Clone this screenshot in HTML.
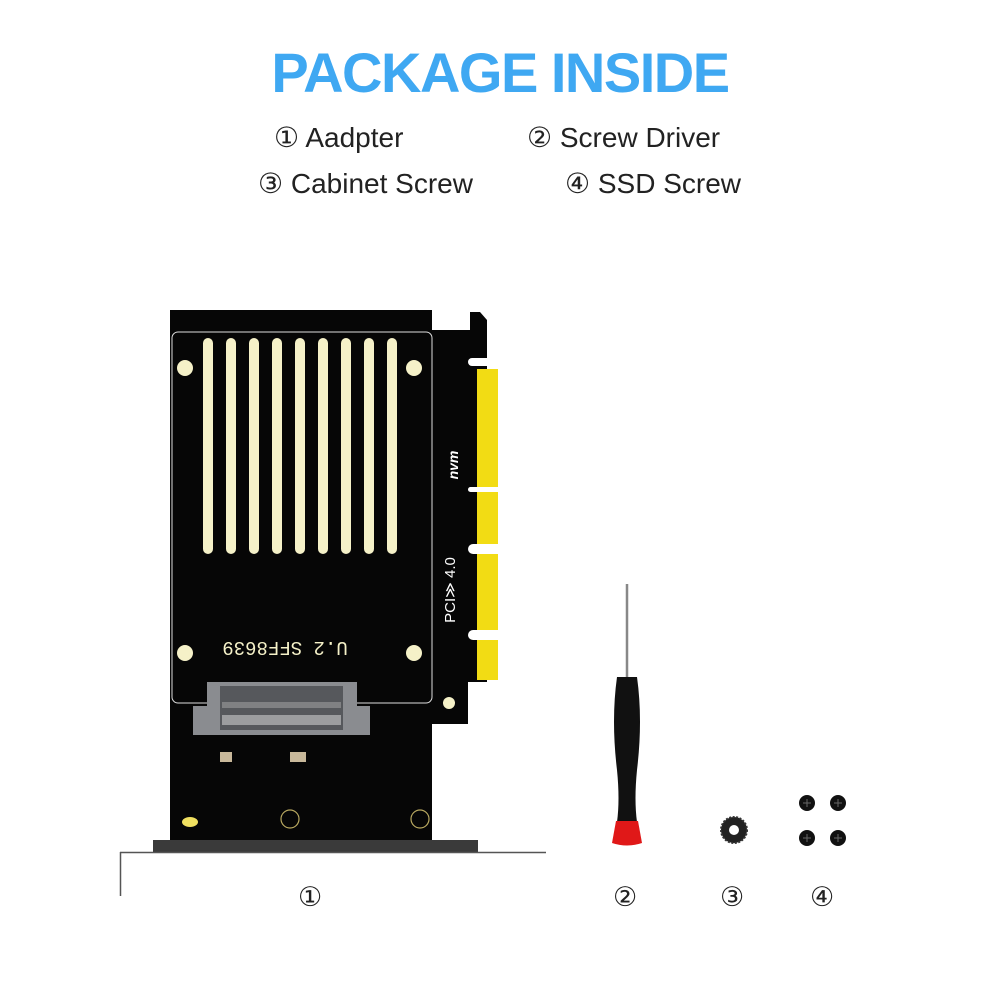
<!DOCTYPE html>
<html><head><meta charset="utf-8"><style>
body{margin:0;background:#fff;}
.t{position:absolute;font-family:"Liberation Sans","DejaVu Sans",sans-serif;color:#222;white-space:nowrap;}
</style></head><body>
<div style="position:relative;width:1000px;height:1000px;overflow:hidden;">
<div class="t" style="left:0;width:1000px;text-align:center;top:40px;font-size:56px;font-weight:bold;color:#3fa8f2;letter-spacing:-1.5px;">PACKAGE INSIDE</div>
<div class="t" style="left:274px;top:121px;font-size:28px;">① Aadpter</div>
<div class="t" style="left:527px;top:121px;font-size:28px;">② Screw Driver</div>
<div class="t" style="left:258px;top:167px;font-size:28px;">③ Cabinet Screw</div>
<div class="t" style="left:565px;top:167px;font-size:28px;">④ SSD Screw</div>
<div class="t" style="left:298px;top:882px;font-size:27px;">①</div>
<div class="t" style="left:613px;top:882px;font-size:27px;">②</div>
<div class="t" style="left:720px;top:882px;font-size:27px;">③</div>
<div class="t" style="left:810px;top:882px;font-size:27px;">④</div>
<svg width="1000" height="1000" style="position:absolute;left:0;top:0">
<rect x="153" y="840" width="325" height="12" fill="#3a3a3a"/>
<line x1="120" y1="852.5" x2="546" y2="852.5" stroke="#555" stroke-width="1.5"/>
<line x1="120.5" y1="852" x2="120.5" y2="896" stroke="#555" stroke-width="1.5"/>
<path d="M170 310 H432 V330 H470 V312 H480 L487 320 V682 H468 V724 H432 V840 H170 Z" fill="#060606"/>
<g fill="#f2dc14">
<rect x="477" y="369" width="21" height="118"/>
<rect x="477" y="492" width="21" height="52"/>
<rect x="477" y="554" width="21" height="76"/>
<rect x="477" y="640" width="21" height="40"/>
</g>
<g fill="#fff"><rect x="468" y="487" width="30" height="5" rx="2.5"/><rect x="468" y="544" width="30" height="10" rx="5"/><rect x="468" y="630" width="30" height="10" rx="5"/><rect x="468" y="358" width="30" height="8" rx="4"/></g>
<rect x="172" y="332" width="260" height="371" rx="6" fill="none" stroke="#ddd" stroke-width="1"/>
<g fill="#f5f1c8">
<rect x="203" y="338" width="10" height="216" rx="5"/>
<rect x="226" y="338" width="10" height="216" rx="5"/>
<rect x="249" y="338" width="10" height="216" rx="5"/>
<rect x="272" y="338" width="10" height="216" rx="5"/>
<rect x="295" y="338" width="10" height="216" rx="5"/>
<rect x="318" y="338" width="10" height="216" rx="5"/>
<rect x="341" y="338" width="10" height="216" rx="5"/>
<rect x="364" y="338" width="10" height="216" rx="5"/>
<rect x="387" y="338" width="10" height="216" rx="5"/>
<circle cx="185" cy="368" r="8"/><circle cx="414" cy="368" r="8"/>
<circle cx="185" cy="653" r="8"/><circle cx="414" cy="653" r="8"/>
<circle cx="449" cy="703" r="6"/>
<ellipse cx="190" cy="822" rx="8" ry="5" fill="#f0e060"/>
</g>
<text x="285" y="647" transform="rotate(180 285 647)" font-family="Liberation Mono,monospace" font-size="19" fill="#f5f1c8" text-anchor="middle" dominant-baseline="middle">U.2 SFF8639</text>
<text x="455" y="590" transform="rotate(-90 455 590)" font-family="Liberation Sans,sans-serif" font-size="15" fill="#fff" text-anchor="middle">PCI≫ 4.0</text>
<text x="458" y="465" transform="rotate(-90 458 465)" font-family="Liberation Sans,sans-serif" font-size="14" font-weight="bold" font-style="italic" fill="#fff" text-anchor="middle">nvm</text>
<path d="M207 682 H357 V706 H370 V735 H193 V706 H207 Z" fill="#8a8c90"/>
<rect x="220" y="686" width="123" height="44" fill="#56585c"/>
<rect x="222" y="715" width="119" height="10" fill="#ccc" opacity=".6"/>
<rect x="222" y="702" width="119" height="6" fill="#aaa" opacity=".5"/>
<rect x="220" y="752" width="12" height="10" fill="#c8b89a"/>
<rect x="290" y="752" width="16" height="10" fill="#c8b89a"/>
<circle cx="290" cy="819" r="9" fill="none" stroke="#b8a860" stroke-width="1.2"/>
<circle cx="420" cy="819" r="9" fill="none" stroke="#b8a860" stroke-width="1.2"/>
<line x1="627" y1="584" x2="627" y2="678" stroke="#888" stroke-width="2.5"/>
<path d="M617 677 H637 Q643 720 637 770 Q634 800 637 822 H617 Q620 800 617 770 Q611 720 617 677 Z" fill="#111"/>
<path d="M616 821 H638 L642 843 Q627 848 612 843 Z" fill="#e01818"/>
<circle cx="734" cy="830" r="13" fill="#222" stroke="#333" stroke-width="2" stroke-dasharray="2 1.5"/>
<circle cx="734" cy="830" r="5" fill="#fff"/>
<g fill="#111"><circle cx="807" cy="803" r="8"/><circle cx="838" cy="803" r="8"/><circle cx="807" cy="838" r="8"/><circle cx="838" cy="838" r="8"/></g>
<g stroke="#666" stroke-width="1"><path d="M803 803h8M807 799v8M834 803h8M838 799v8M803 838h8M807 834v8M834 838h8M838 834v8"/></g>
</svg>
</div>
</body></html>
